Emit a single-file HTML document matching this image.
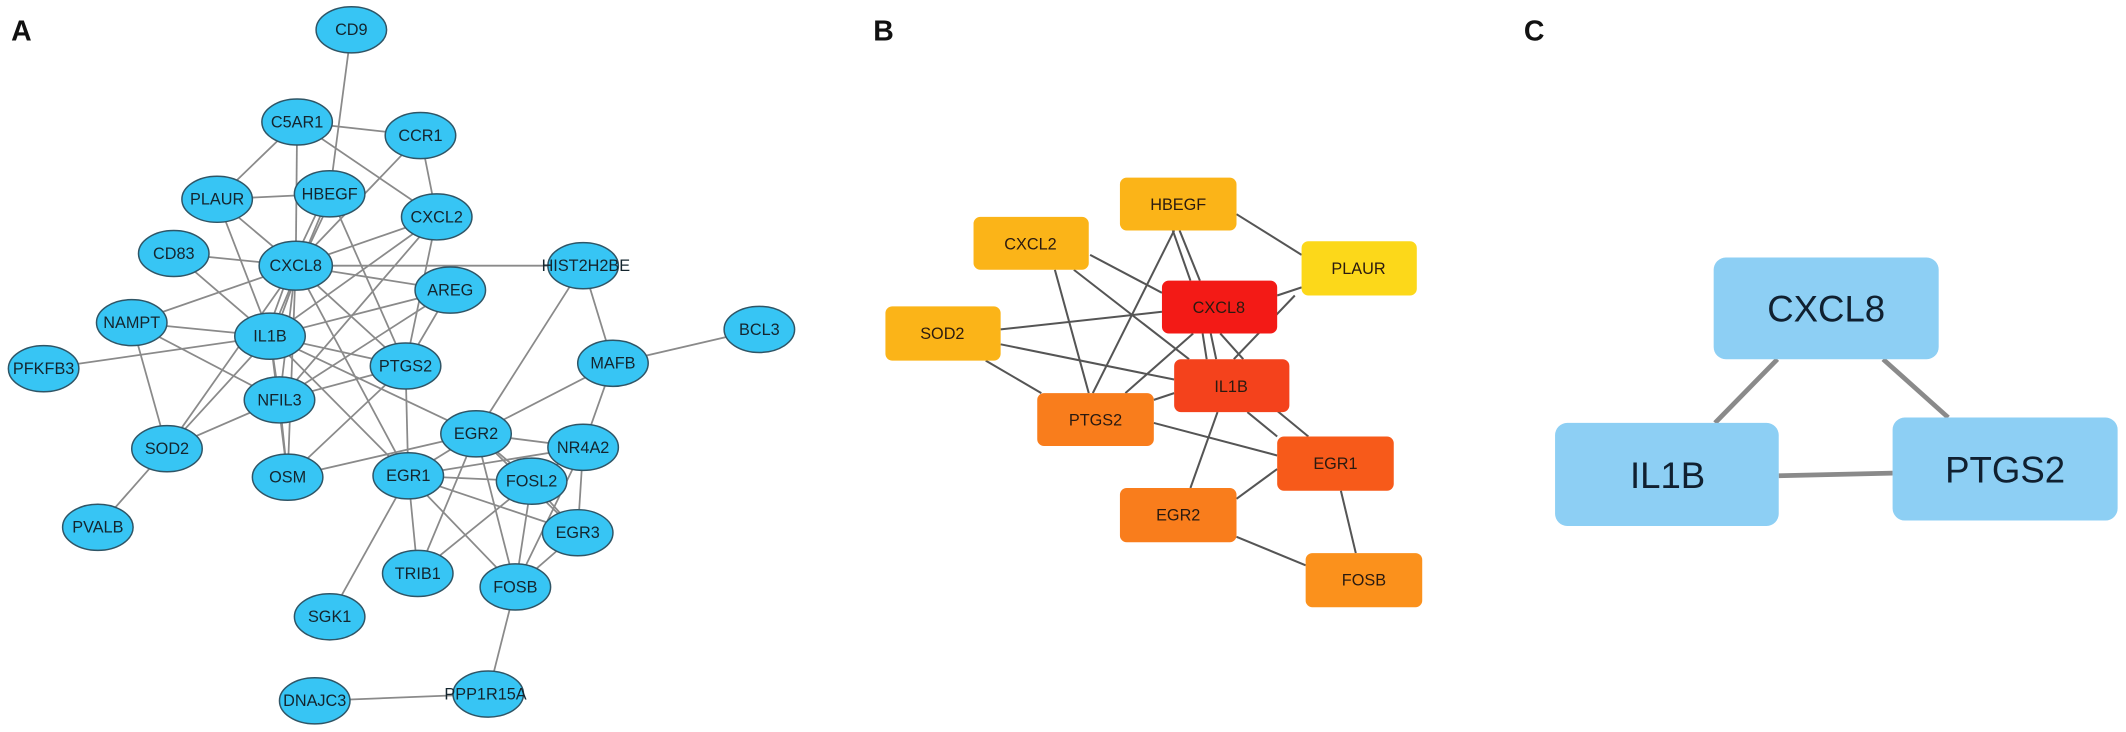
<!DOCTYPE html>
<html><head><meta charset="utf-8"><style>
html,body{margin:0;padding:0;background:#fff}
svg{display:block}
text{font-family:"Liberation Sans",Arial,sans-serif}
</style></head><body>
<svg width="2126" height="732" viewBox="0 0 1568 540" xmlns="http://www.w3.org/2000/svg">
<rect width="1568" height="540" fill="#fff"/>
<g font-weight="bold" font-size="21" fill="#111">
<text x="8" y="30">A</text><text x="644" y="30">B</text><text x="1124" y="30">C</text>
</g>
<g stroke="#8a8a8a" stroke-width="1.3">
<line x1="259" y1="22" x2="243" y2="143"/>
<line x1="219" y1="90" x2="310" y2="100"/>
<line x1="219" y1="90" x2="160" y2="147"/>
<line x1="219" y1="90" x2="218" y2="196"/>
<line x1="219" y1="90" x2="322" y2="160"/>
<line x1="310" y1="100" x2="322" y2="160"/>
<line x1="310" y1="100" x2="218" y2="196"/>
<line x1="160" y1="147" x2="243" y2="143"/>
<line x1="160" y1="147" x2="218" y2="196"/>
<line x1="160" y1="147" x2="199" y2="248"/>
<line x1="240" y1="143" x2="215" y2="196"/>
<line x1="246" y1="143" x2="221" y2="196"/>
<line x1="243" y1="143" x2="299" y2="270"/>
<line x1="243" y1="143" x2="199" y2="248"/>
<line x1="322" y1="160" x2="218" y2="196"/>
<line x1="322" y1="160" x2="199" y2="248"/>
<line x1="322" y1="160" x2="299" y2="270"/>
<line x1="322" y1="160" x2="206" y2="295"/>
<line x1="128" y1="187" x2="218" y2="196"/>
<line x1="128" y1="187" x2="199" y2="248"/>
<line x1="218" y1="196" x2="430" y2="196"/>
<line x1="218" y1="196" x2="332" y2="214"/>
<line x1="218" y1="196" x2="97" y2="238"/>
<line x1="215" y1="196" x2="196" y2="248"/>
<line x1="221" y1="196" x2="202" y2="248"/>
<line x1="218" y1="196" x2="206" y2="295"/>
<line x1="218" y1="196" x2="123" y2="331"/>
<line x1="218" y1="196" x2="299" y2="270"/>
<line x1="218" y1="196" x2="301" y2="351"/>
<line x1="218" y1="196" x2="212" y2="352"/>
<line x1="332" y1="214" x2="199" y2="248"/>
<line x1="332" y1="214" x2="206" y2="295"/>
<line x1="332" y1="214" x2="299" y2="270"/>
<line x1="97" y1="238" x2="199" y2="248"/>
<line x1="97" y1="238" x2="206" y2="295"/>
<line x1="97" y1="238" x2="123" y2="331"/>
<line x1="199" y1="248" x2="32" y2="272"/>
<line x1="199" y1="248" x2="299" y2="270"/>
<line x1="199" y1="248" x2="206" y2="295"/>
<line x1="199" y1="248" x2="123" y2="331"/>
<line x1="199" y1="248" x2="301" y2="351"/>
<line x1="199" y1="248" x2="351" y2="320"/>
<line x1="199" y1="248" x2="212" y2="352"/>
<line x1="299" y1="270" x2="206" y2="295"/>
<line x1="299" y1="270" x2="301" y2="351"/>
<line x1="299" y1="270" x2="212" y2="352"/>
<line x1="206" y1="295" x2="123" y2="331"/>
<line x1="206" y1="295" x2="212" y2="352"/>
<line x1="430" y1="196" x2="452" y2="268"/>
<line x1="430" y1="196" x2="351" y2="320"/>
<line x1="452" y1="268" x2="560" y2="243"/>
<line x1="452" y1="268" x2="351" y2="320"/>
<line x1="452" y1="268" x2="430" y2="330"/>
<line x1="351" y1="320" x2="430" y2="330"/>
<line x1="351" y1="320" x2="212" y2="352"/>
<line x1="351" y1="320" x2="301" y2="351"/>
<line x1="351" y1="320" x2="392" y2="355"/>
<line x1="351" y1="320" x2="380" y2="433"/>
<line x1="351" y1="320" x2="308" y2="423"/>
<line x1="351" y1="320" x2="426" y2="393"/>
<line x1="430" y1="330" x2="301" y2="351"/>
<line x1="430" y1="330" x2="392" y2="355"/>
<line x1="430" y1="330" x2="426" y2="393"/>
<line x1="430" y1="330" x2="380" y2="433"/>
<line x1="301" y1="351" x2="392" y2="355"/>
<line x1="301" y1="351" x2="426" y2="393"/>
<line x1="301" y1="351" x2="380" y2="433"/>
<line x1="301" y1="351" x2="308" y2="423"/>
<line x1="301" y1="351" x2="243" y2="455"/>
<line x1="392" y1="355" x2="380" y2="433"/>
<line x1="392" y1="355" x2="308" y2="423"/>
<line x1="392" y1="355" x2="426" y2="393"/>
<line x1="426" y1="393" x2="380" y2="433"/>
<line x1="380" y1="433" x2="360" y2="512"/>
<line x1="360" y1="512" x2="232" y2="517"/>
<line x1="123" y1="331" x2="72" y2="389"/>
</g>
<g fill="#37c5f4" stroke="#2f5566" stroke-width="1.1">
<ellipse cx="259" cy="22" rx="26" ry="17"/>
<ellipse cx="219" cy="90" rx="26" ry="17"/>
<ellipse cx="310" cy="100" rx="26" ry="17"/>
<ellipse cx="243" cy="143" rx="26" ry="17"/>
<ellipse cx="160" cy="147" rx="26" ry="17"/>
<ellipse cx="322" cy="160" rx="26" ry="17"/>
<ellipse cx="128" cy="187" rx="26" ry="17"/>
<ellipse cx="218" cy="196" rx="27" ry="18"/>
<ellipse cx="430" cy="196" rx="26" ry="17"/>
<ellipse cx="332" cy="214" rx="26" ry="17"/>
<ellipse cx="97" cy="238" rx="26" ry="17"/>
<ellipse cx="199" cy="248" rx="26" ry="17"/>
<ellipse cx="560" cy="243" rx="26" ry="17"/>
<ellipse cx="452" cy="268" rx="26" ry="17"/>
<ellipse cx="32" cy="272" rx="26" ry="17"/>
<ellipse cx="299" cy="270" rx="26" ry="17"/>
<ellipse cx="206" cy="295" rx="26" ry="17"/>
<ellipse cx="351" cy="320" rx="26" ry="17"/>
<ellipse cx="430" cy="330" rx="26" ry="17"/>
<ellipse cx="123" cy="331" rx="26" ry="17"/>
<ellipse cx="212" cy="352" rx="26" ry="17"/>
<ellipse cx="301" cy="351" rx="26" ry="17"/>
<ellipse cx="392" cy="355" rx="26" ry="17"/>
<ellipse cx="72" cy="389" rx="26" ry="17"/>
<ellipse cx="426" cy="393" rx="26" ry="17"/>
<ellipse cx="308" cy="423" rx="26" ry="17"/>
<ellipse cx="380" cy="433" rx="26" ry="17"/>
<ellipse cx="243" cy="455" rx="26" ry="17"/>
<ellipse cx="360" cy="512" rx="26" ry="17"/>
<ellipse cx="232" cy="517" rx="26" ry="17"/>
</g>
<g font-size="12" fill="#14252e" text-anchor="middle">
<text x="259" y="26">CD9</text>
<text x="219" y="94">C5AR1</text>
<text x="310" y="104">CCR1</text>
<text x="243" y="147">HBEGF</text>
<text x="160" y="151">PLAUR</text>
<text x="322" y="164">CXCL2</text>
<text x="128" y="191">CD83</text>
<text x="218" y="200">CXCL8</text>
<text x="432" y="200">HIST2H2BE</text>
<text x="332" y="218">AREG</text>
<text x="97" y="242">NAMPT</text>
<text x="199" y="252">IL1B</text>
<text x="560" y="247">BCL3</text>
<text x="452" y="272">MAFB</text>
<text x="32" y="276">PFKFB3</text>
<text x="299" y="274">PTGS2</text>
<text x="206" y="299">NFIL3</text>
<text x="351" y="324">EGR2</text>
<text x="430" y="334">NR4A2</text>
<text x="123" y="335">SOD2</text>
<text x="212" y="356">OSM</text>
<text x="301" y="355">EGR1</text>
<text x="392" y="359">FOSL2</text>
<text x="72" y="393">PVALB</text>
<text x="426" y="397">EGR3</text>
<text x="308" y="427">TRIB1</text>
<text x="380" y="437">FOSB</text>
<text x="243" y="459">SGK1</text>
<text x="358" y="516">PPP1R15A</text>
<text x="232" y="521">DNAJC3</text>
</g>
<g stroke="#555" stroke-width="1.5">
<line x1="912" y1="158" x2="960" y2="188"/>
<line x1="865" y1="170" x2="878" y2="207"/>
<line x1="870" y1="170" x2="885" y2="207"/>
<line x1="866" y1="170" x2="806" y2="290"/>
<line x1="804" y1="188" x2="857" y2="216"/>
<line x1="778" y1="199" x2="803" y2="290"/>
<line x1="792" y1="199" x2="877" y2="265"/>
<line x1="942" y1="218" x2="960" y2="212"/>
<line x1="955" y1="218" x2="910" y2="265"/>
<line x1="738" y1="243" x2="857" y2="230"/>
<line x1="738" y1="254" x2="866" y2="280"/>
<line x1="727" y1="266" x2="768" y2="290"/>
<line x1="887" y1="246" x2="890" y2="265"/>
<line x1="893" y1="246" x2="897" y2="265"/>
<line x1="900" y1="246" x2="917" y2="265"/>
<line x1="880" y1="246" x2="830" y2="290"/>
<line x1="851" y1="295" x2="866" y2="290"/>
<line x1="920" y1="304" x2="942" y2="322"/>
<line x1="937" y1="299" x2="965" y2="322"/>
<line x1="898" y1="304" x2="878" y2="360"/>
<line x1="851" y1="312" x2="942" y2="336"/>
<line x1="942" y1="346" x2="912" y2="368"/>
<line x1="989" y1="362" x2="1000" y2="408"/>
<line x1="912" y1="396" x2="963" y2="417"/>
</g>
<g>
<rect x="826" y="131" width="86" height="39" rx="5" fill="#fbb418"/>
<rect x="718" y="160" width="85" height="39" rx="5" fill="#fbb418"/>
<rect x="960" y="178" width="85" height="40" rx="5" fill="#fcd81a"/>
<rect x="857" y="207" width="85" height="39" rx="5" fill="#f31a16"/>
<rect x="653" y="226" width="85" height="40" rx="5" fill="#fbb418"/>
<rect x="866" y="265" width="85" height="39" rx="5" fill="#f4421c"/>
<rect x="765" y="290" width="86" height="39" rx="5" fill="#f97d1c"/>
<rect x="942" y="322" width="86" height="40" rx="5" fill="#f75a1a"/>
<rect x="826" y="360" width="86" height="40" rx="5" fill="#f97d1c"/>
<rect x="963" y="408" width="86" height="40" rx="5" fill="#fb911c"/>
</g>
<g font-size="12" fill="#2a1a10" text-anchor="middle">
<text x="869" y="155">HBEGF</text>
<text x="760" y="184">CXCL2</text>
<text x="1002" y="202">PLAUR</text>
<text x="899" y="231">CXCL8</text>
<text x="695" y="250">SOD2</text>
<text x="908" y="289">IL1B</text>
<text x="808" y="314">PTGS2</text>
<text x="985" y="346">EGR1</text>
<text x="869" y="384">EGR2</text>
<text x="1006" y="432">FOSB</text>
</g>
<g stroke="#8a8a8a" stroke-width="3.5">
<line x1="1311" y1="265" x2="1265" y2="312"/>
<line x1="1389" y1="265" x2="1437" y2="308"/>
<line x1="1312" y1="351" x2="1396" y2="349"/>
</g>
<g fill="#8dcff4">
<rect x="1264" y="190" width="166" height="75" rx="9"/>
<rect x="1147" y="312" width="165" height="76" rx="9"/>
<rect x="1396" y="308" width="166" height="76" rx="9"/>
</g>
<g font-size="27" fill="#102030" text-anchor="middle">
<text x="1347" y="237">CXCL8</text>
<text x="1230" y="360">IL1B</text>
<text x="1479" y="356">PTGS2</text>
</g>
</svg>
</body></html>
